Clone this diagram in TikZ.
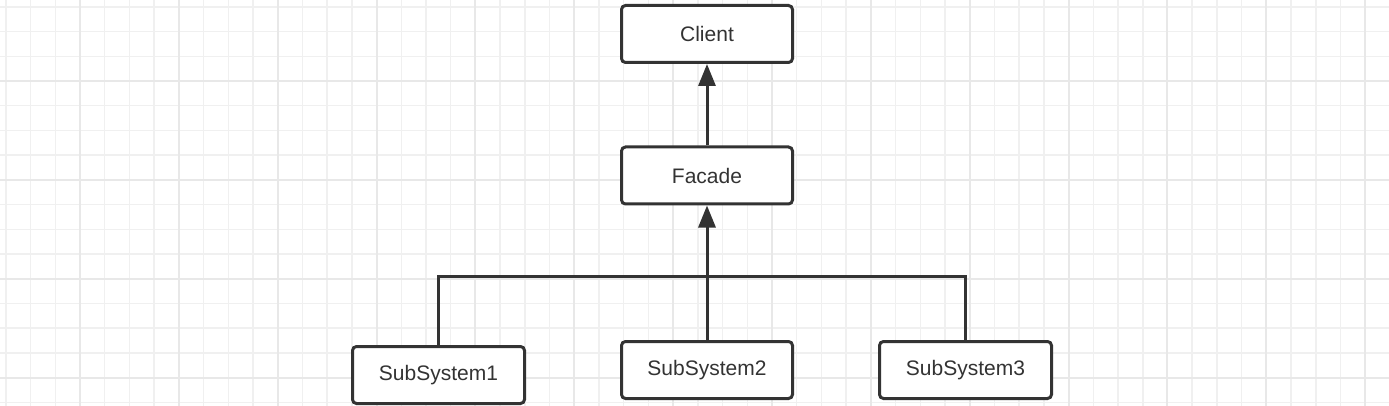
\documentclass[tikz,border=0pt]{standalone}
\usepackage{fontspec}
\setmainfont{Liberation Sans}
\usetikzlibrary{arrows.meta}
\definecolor{ink}{HTML}{333333}
\definecolor{gridminor}{HTML}{F0F0F0}
\definecolor{gridmajor}{HTML}{E8E8E8}
\begin{document}
\begin{tikzpicture}[x=1pt,y=-1pt,
  minorline/.style={draw=gridminor,line width=1.5pt},
  majorline/.style={draw=gridmajor,line width=2pt},
  umlbox/.style={draw=ink,fill=white,line width=3pt,rounded corners=4pt,
    minimum width=171pt,minimum height=57pt,inner sep=0pt,
    text=ink,font=\fontsize{21}{25}\selectfont},
  conn/.style={draw=ink,line width=3pt},
  tip/.style={-{Triangle[width=17pt,length=22pt]}}]
\useasboundingbox (0,0) rectangle (1389,406);
\fill[white] (0,0) rectangle (1389,406);
% grid
\foreach \k in {1,...,56} \draw[minorline] ({-18.86+\k*24.715},0) -- ++(0,406);
\foreach \k in {1,...,17} \draw[minorline] (0,{-17.86+\k*24.715}) -- ++(1389,0);
\foreach \k in {1,...,14} \draw[majorline] ({-18.86+\k*98.86},0) -- ++(0,406);
\foreach \k in {1,...,4} \draw[majorline] (0,{-17.86+\k*98.86}) -- ++(1389,0);
% nodes
\node[umlbox] (client) at (707,34) {Client};
\node[umlbox] (facade) at (707,175.5) {Facade};
\node[umlbox,minimum width=172pt] (s1) at (438.5,375) {SubSystem1};
\node[umlbox] (s2) at (707,370) {SubSystem2};
\node[umlbox,minimum width=172pt] (s3) at (965.5,370) {SubSystem3};
\coordinate (bus) at (707,276);
% connectors
\draw[conn,tip] (facade.north) -- (client.south);
\draw[conn,tip] (s2.north) -- (facade.south);
\draw[conn] (s1.north) |- (bus) -| (s3.north);
\end{tikzpicture}
\end{document}
